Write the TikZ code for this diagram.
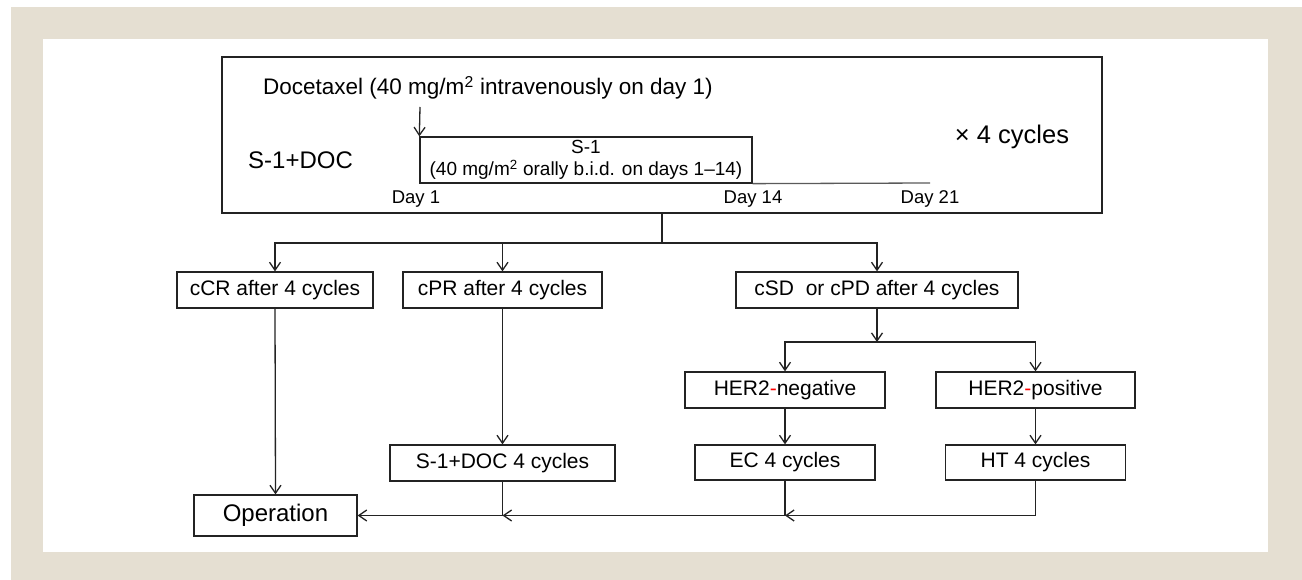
\documentclass[tikz,border=0pt]{standalone}
\usepackage{fontspec}
\setmainfont{Liberation Sans}
\usetikzlibrary{arrows.meta}
\definecolor{beige}{RGB}{229,223,210}
\definecolor{lc}{RGB}{35,35,35}
\definecolor{tl}{RGB}{90,90,90}
\begin{document}
\begin{tikzpicture}[x=1pt,y=-1pt,
  box/.style={draw=lc, line width=1.3pt, inner sep=0pt, font=\fontsize{21}{25}\selectfont},
  arr/.style={draw=lc, line width=1.3pt, -{Straight Barb[length=8pt,width=11pt,line width=1.3pt]}},
  ln/.style={draw=lc, line width=1.3pt},
  lbl/.style={inner sep=0pt},
  day/.style={inner sep=0pt, font=\fontsize{18.5}{22}\selectfont}]
\useasboundingbox (0,0) rectangle (1302,580);
\fill[white] (0,0) rectangle (1302,580);
\fill[beige] (11,7) rectangle (1302,580);
\fill[white] (43,39) rectangle (1268,552);

% top panel
\node[box, minimum width=880pt, minimum height=156pt] (top) at (662,135) {};
\node[lbl, anchor=west, font=\fontsize{22.5}{26}\selectfont] (doc) at (263,88) {Docetaxel (40 mg/m\textsuperscript{2} intravenously on day 1)};
\node[box, minimum width=332pt, minimum height=46pt, font=\fontsize{19}{22}\selectfont, align=center] (s1) at (586,160) {S-1\\(40 mg/m\textsuperscript{2} orally b.i.d. on days 1--14)};
\node[lbl, anchor=west, font=\fontsize{24}{28}\selectfont] (sdoc) at (248,160) {S-1+DOC};
\node[day] (d1) at (416,199) {Day 1};
\node[day] (d14) at (753,199) {Day 14};
\node[day] (d21) at (930,199) {Day 21};
\node[lbl, font=\fontsize{25.5}{29}\selectfont] (cyc) at (1012,137) {× 4 cycles};
\coordinate (t21) at (930,183);
\coordinate (d0) at (420,107);
\draw[arr] (d0) -- (s1.north west);
\draw[draw=tl, line width=1.3pt] (s1.south east) -- (t21);

% second row
\node[box, minimum width=196pt, minimum height=36pt] (ccr) at (275,290) {cCR after 4 cycles};
\node[box, minimum width=199pt, minimum height=36pt] (cpr) at (502.5,290) {cPR after 4 cycles};
\node[box, minimum width=282pt, minimum height=36pt] (csd) at (877,290) {cSD\ \ or cPD after 4 cycles};

% third row
\node[box, minimum width=200pt, minimum height=36pt] (hneg) at (785,390) {HER2\textcolor{red}{-}negative};
\node[box, minimum width=199pt, minimum height=36pt] (hpos) at (1035.5,390) {HER2\textcolor{red}{-}positive};

% fourth row
\node[box, minimum width=225pt, minimum height=36pt] (s1d) at (502.5,463) {S-1+DOC 4 cycles};
\node[box, minimum width=180pt, minimum height=35pt] (ec) at (785,462.5) {EC 4 cycles};
\node[box, minimum width=180pt, minimum height=35pt] (ht) at (1035.5,462.5) {HT 4 cycles};

% operation
\node[box, minimum width=163pt, minimum height=41pt, font=\fontsize{24}{28}\selectfont] (op) at (275.5,515.5) {Operation};

% connectors
\coordinate (j1) at (662,243);
\draw[ln] (top.south) -- (j1);
\draw[arr] (j1) -| (ccr.north);
\draw[arr] (j1) -| (cpr.north);
\draw[arr] (j1) -| (csd.north);

\coordinate (j2) at (877,342);
\draw[arr] (csd.south) -- (j2);
\draw[arr] (j2) -| (hneg.north);
\draw[arr] (j2) -| (hpos.north);
\draw[arr] (hneg.south) -- (ec.north);
\draw[arr] (hpos.south) -- (ht.north);

\draw[arr] (ccr.south) -- (op.north);
\draw[arr] (cpr.south) -- (s1d.north);

\coordinate (j3) at (785,515.5);
\coordinate (j4) at (502.5,515.5);
\draw[arr] (ht.south) |- (j3);
\draw[ln] (ec.south) -- (j3);
\draw[arr] (j3) -- (j4);
\draw[ln] (s1d.south) -- (j4);
\draw[arr] (j4) -- (op.east);
\end{tikzpicture}
\end{document}
